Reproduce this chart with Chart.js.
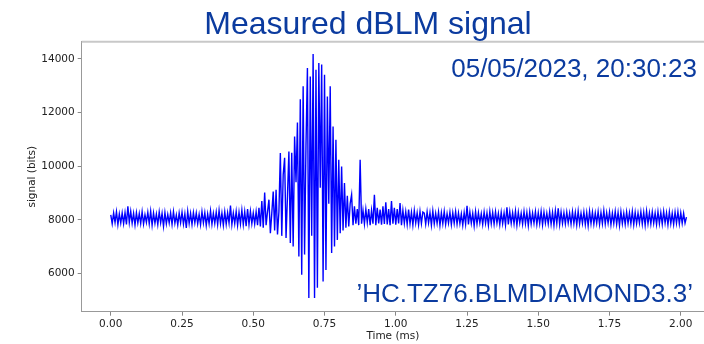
<!DOCTYPE html>
<html>
<head>
<meta charset="utf-8">
<title>Measured dBLM signal</title>
<script src="https://cdn.jsdelivr.net/npm/chart.js@4"></script>
<style>
	body { margin: 0; background: #fff; }
	#wrap { width: 704px; height: 344px; position: relative; }
</style>
</head>
<body>
<div id="wrap"><canvas id="canvas-dblm" width="704" height="344"></canvas></div>
<script>
// signal, one sample every 0.005 ms from t = 0
var sampleStep = 0.005;
var signalValues = [
	8180,7850,8250,7900,8300,7820,8220,7880,8260,7860,8270,7830,8500,7900,8310,7870,8240,7810,8260,7880,
	8230,7860,8300,7840,8190,7900,8280,7850,8320,7800,8250,7870,8210,7820,8290,7890,8240,7760,8270,7850,
	8200,7880,8260,7830,8300,7870,8180,7810,8250,7890,8280,7840,8220,7700,8310,7860,8240,7830,8270,7890,
	8250,7850,8200,7820,8300,7880,8260,7790,8220,7860,8330,7840,8240,7870,8280,7820,8350,7860,8250,7800,
	8300,7840,8260,7880,8530,7830,8250,7860,8310,7800,8280,7850,8360,7820,8300,7760,8400,7830,8320,7860,
	8250,7850,8300,7800,8450,7750,8700,7700,9020,7800,8300,8750,7500,8250,9050,7600,9120,7450,8300,10490,
	7400,9680,10310,7320,8900,10550,7130,10500,7000,11110,9400,11630,6630,12500,5950,12980,6700,10800,13660,5080,
	13350,7400,14190,5080,13600,5460,13850,9200,13790,5700,13410,6130,12600,8600,12980,6760,11480,7000,10990,7250,
	10240,7500,9990,7600,9370,7700,8900,7750,8600,8930,7800,8500,7850,8400,7800,10240,7850,8350,7850,8400,
	7900,8400,7800,8350,7850,8930,7800,8450,7860,8380,7820,8500,7840,8650,7830,8400,7800,8700,7850,8450,
	7820,8400,7860,8620,7800,8350,7870,8300,7830,8380,7850,8280,7800,8340,7880,8260,7820,8310,7860,8290,
	8250,7840,8300,7880,8270,7800,8330,7850,8240,7870,8290,7790,8260,7860,8310,7830,8230,7880,8280,7820,
	8260,7870,8300,7840,8250,7860,8220,7800,8270,7850,8520,7830,8290,7870,8240,7780,8300,7850,8260,7880,
	8230,7830,8290,7870,8250,7800,8310,7860,8270,7840,8300,7880,8240,7820,8280,7860,8250,7810,8470,7830,
	8300,7870,8260,7850,8320,7800,8280,7880,8240,7840,8310,7860,8270,7790,8290,7850,8250,7870,8300,7830,
	8260,7860,8310,7820,8280,7880,8240,7850,8300,7840,8270,7800,8330,7860,8430,7830,8290,7870,8260,7850,
	8280,7880,8250,7840,8300,7860,8270,7810,8320,7850,8240,7870,8290,7830,8260,7780,8310,7860,8280,7840,
	8250,7870,8300,7830,8270,7860,8340,7850,8260,7880,8290,7820,8250,7860,8310,7840,8270,7790,8300,7860,
	8240,7830,8290,7870,8260,7850,8310,7820,8270,7860,8250,7880,8300,7840,8280,7800,8320,7860,8260,7850,
	8290,7870,8250,7830,8300,7860,8270,7840,8310,7880,8260,7820,8290,7860,8240,7830,8280,7870,8300,7850,
	8260,7870,8240,7880,8100
];
var timeTicks = [0, 0.25, 0.5, 0.75, 1.0, 1.25, 1.5, 1.75, 2.0];
var signalTicks = [6000, 8000, 10000, 12000, 14000];
var titleText = "Measured dBLM signal";
var dateText = "05/05/2023, 20:30:23";
var monitorText = "\u2019HC.TZ76.BLMDIAMOND3.3\u2019";

var textBlue = "#0b3b9f";
var tickFont = { family: "DejaVu Sans", size: 10.5 };

var points = signalValues.map(function(v, i){
	return { x: i * sampleStep, y: v };
});

// title, frame top and the two blue notes
var decorations = {
	id: "decorations",
	afterDraw: function(chart){
		var ctx = chart.ctx;
		var area = chart.chartArea;
		ctx.save();
		ctx.strokeStyle = "#c8c8c8";
		ctx.lineWidth = 2;
		ctx.beginPath();
		ctx.moveTo(area.left, area.top);
		ctx.lineTo(chart.width, area.top);
		ctx.stroke();

		ctx.fillStyle = textBlue;
		ctx.textBaseline = "alphabetic";
		ctx.font = "32px 'Liberation Sans', Arial, sans-serif";
		ctx.textAlign = "center";
		ctx.fillText(titleText, 368, 34);

		ctx.font = "26px 'Liberation Sans', Arial, sans-serif";
		ctx.textAlign = "right";
		ctx.fillText(dateText, 697, 77);
		ctx.fillText(monitorText, 693, 302);
		ctx.restore();
	}
};

var config = {
	type: "line",
	data: {
		datasets: [{
			data: points,
			borderColor: "#0000ff",
			borderWidth: 1.4,
			pointRadius: 0,
			tension: 0,
			fill: false
		}]
	},
	options: {
		responsive: false,
		animation: false,
		events: [],
		layout: { padding: { top: 41.7, left: 0, right: 0, bottom: 0 } },
		plugins: {
			legend: { display: false },
			tooltip: { enabled: false }
		},
		scales: {
			x: {
				type: "linear",
				min: -0.102,
				max: 2.0815,
				afterFit: function(scale){ scale.height = 32.3; },
				afterBuildTicks: function(scale){
					scale.ticks = timeTicks.map(function(v){ return { value: v }; });
				},
				grid: { drawOnChartArea: false, drawTicks: true, tickLength: 4, color: "#888" },
				border: { display: true, color: "#999", width: 1 },
				ticks: {
					font: tickFont,
					color: "#222",
					padding: 2,
					maxRotation: 0,
					autoSkip: false,
					callback: function(v){ return Number(v).toFixed(2); }
				},
				title: {
					display: true,
					text: "Time (ms)",
					font: { family: "DejaVu Sans", size: 10.5 },
					color: "#222",
					padding: { top: 0, bottom: 1.5 }
				}
			},
			y: {
				min: 4570,
				max: 14645,
				afterFit: function(scale){ scale.width = 81.7; },
				afterBuildTicks: function(scale){
					scale.ticks = signalTicks.map(function(v){ return { value: v }; });
				},
				grid: { drawOnChartArea: false, drawTicks: true, tickLength: 4, color: "#888" },
				border: { display: true, color: "#999", width: 1 },
				ticks: {
					font: tickFont,
					color: "#222",
					padding: 3,
					callback: function(v){ return String(v); }
				},
				title: {
					display: true,
					text: "signal (bits)",
					font: { family: "DejaVu Sans", size: 10.5 },
					color: "#222",
					padding: { top: 25.5, bottom: 0 }
				}
			}
		}
	},
	plugins: [decorations]
};

var chart = new Chart(document.getElementById("canvas-dblm").getContext("2d"), config);
</script>
</body>
</html>
